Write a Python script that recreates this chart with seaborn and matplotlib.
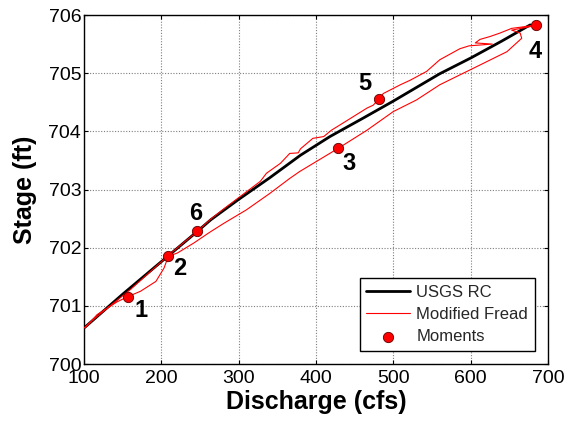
import numpy as np
import pandas as pd
import matplotlib
matplotlib.use("Agg")
import matplotlib.pyplot as plt
import seaborn as sns

# ---------------- data ----------------
usgs_q = [101, 150, 209, 246.6, 264, 300, 340, 380, 418, 460, 500, 560, 600, 640, 677]
usgs_h = [700.63, 701.20, 701.86, 702.28, 702.48, 702.83, 703.20, 703.59, 703.91, 704.22,
          704.52, 704.99, 705.26, 705.55, 705.83]

fread_q = [101, 106, 117, 143, 157, 173, 193, 203.5, 209, 221, 242, 262, 281, 310, 340,
           366, 379, 429, 466, 500, 530, 560, 586, 612, 647, 666, 664, 653, 677, 684,
           670, 653, 638, 625, 612, 606, 628, 598, 586, 560, 543, 522, 509, 487, 481,
           474, 466, 431, 420, 410, 396, 380, 377, 366, 354, 336, 328, 302, 280, 262,
           246.6, 230, 212, 190, 160, 130, 110, 101]
fread_h = [700.62, 700.68, 700.85, 701.07, 701.16, 701.25, 701.42, 701.65, 701.85, 701.91,
           702.08, 702.26, 702.42, 702.65, 702.93, 703.19, 703.31, 703.71, 704.02, 704.34,
           704.54, 704.80, 704.97, 705.14, 705.37, 705.60, 705.69, 705.74, 705.80, 705.83,
           705.80, 705.77, 705.69, 705.63, 705.58, 705.52, 705.50, 705.47, 705.42, 705.23,
           705.03, 704.88, 704.80, 704.65, 704.55, 704.45, 704.40, 704.11, 704.02, 703.91,
           703.88, 703.70, 703.63, 703.62, 703.45, 703.28, 703.14, 702.88, 702.66, 702.47,
           702.28, 702.10, 701.90, 701.64, 701.28, 700.96, 700.74, 700.63]

moment_q = [157, 209, 429, 684, 481, 246.6]
moment_h = [701.16, 701.85, 703.71, 705.83, 704.55, 702.28]
moment_labels = ["1", "2", "3", "4", "5", "6"]

x_ticks = [100, 200, 300, 400, 500, 600, 700]
y_ticks = [700, 701, 702, 703, 704, 705, 706]

# label offsets (points) for moment numbers
label_offsets = {"1": (9, -10), "2": (8, -8.5), "3": (8, -11),
                 "4": (-0.5, -19), "5": (-10, 11.5), "6": (-1.5, 13)}

# ---------------- style ----------------
sns.set_theme(style="white")
plt.rcParams["font.family"] = ["Liberation Sans", "DejaVu Sans"]

fig = plt.figure(figsize=(5.69, 4.23), dpi=100)
ax = fig.add_axes([84 / 569, 1 - 364 / 423, (548 - 84) / 569, (364 - 15) / 423])

usgs = pd.DataFrame({"q": usgs_q, "h": usgs_h})
fread = pd.DataFrame({"q": fread_q, "h": fread_h})
moments = pd.DataFrame({"q": moment_q, "h": moment_h, "lab": moment_labels})

sns.lineplot(data=usgs, x="q", y="h", sort=False, estimator=None, color="black",
             linewidth=2.0, label="USGS RC", ax=ax, zorder=3)
sns.lineplot(data=fread, x="q", y="h", sort=False, estimator=None, color="#ff0000",
             linewidth=0.8, label="Modified Fread", ax=ax, zorder=4)
sns.scatterplot(data=moments, x="q", y="h", color="#ff0000", edgecolor="#600000",
                linewidth=0.6, s=55, label="Moments", ax=ax, zorder=5)

for q, h, lab in zip(moment_q, moment_h, moment_labels):
    ax.annotate(lab, (q, h), xytext=label_offsets[lab], textcoords="offset points",
                ha="center", va="center", fontsize=17, fontweight="bold", color="black")

ax.set_xlim(100, 700)
ax.set_ylim(700, 706)
ax.set_xticks(x_ticks)
ax.set_yticks(y_ticks)
ax.set_xticklabels([str(t) for t in x_ticks])
ax.set_yticklabels([str(t) for t in y_ticks])

ax.grid(True, color="#7f7f7f", linestyle=(0, (1, 1.5)), linewidth=0.8)
ax.set_axisbelow(True)
for s in ax.spines.values():
    s.set_color("black")
    s.set_linewidth(1.0)
    s.set_visible(True)

ax.tick_params(axis="both", which="both", direction="in", length=3, width=0.8,
               top=True, right=True, bottom=True, left=True, colors="black",
               labelsize=14, labelcolor="black")
ax.tick_params(axis="x", pad=4.5)
ax.tick_params(axis="y", pad=2)

ax.set_xlabel("Discharge (cfs)", fontsize=18, fontweight="bold", labelpad=2, color="black")
ax.set_ylabel("Stage (ft)", fontsize=18, fontweight="bold", labelpad=8, color="black")

leg = ax.legend(loc="lower right", fontsize=12, frameon=True, fancybox=False,
                edgecolor="black", framealpha=1, borderaxespad=0.8,
                handlelength=2.6, handletextpad=0.4, labelspacing=0.42, borderpad=0.4)
leg.get_frame().set_linewidth(1.0)

fig.savefig("out.png", dpi=100)
